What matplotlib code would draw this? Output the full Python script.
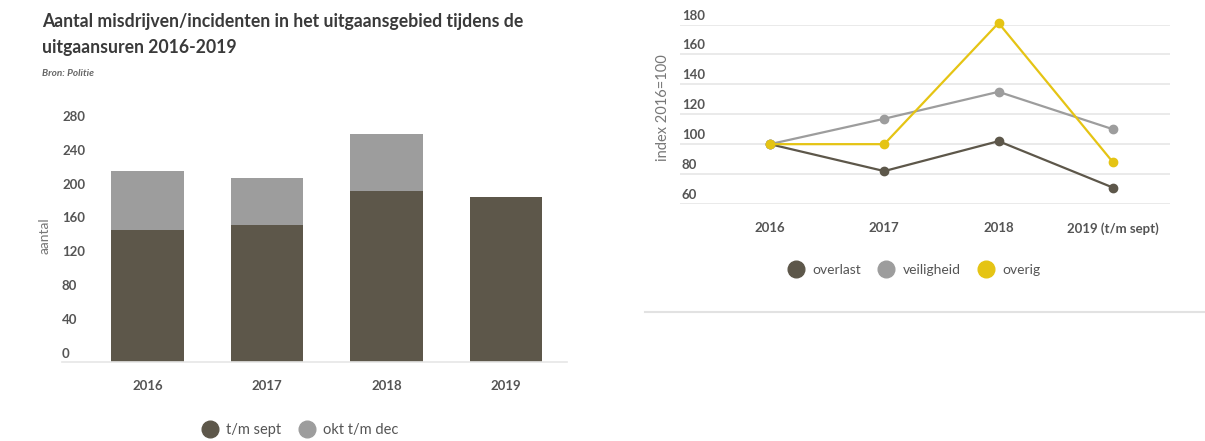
import matplotlib
matplotlib.use("Agg")
import matplotlib.pyplot as plt
from matplotlib.lines import Line2D
from matplotlib import transforms

# ---------------- data ----------------
bar_years = ["2016", "2017", "2018", "2019"]
tm_sept = [156, 161, 202, 195]
okt_tm_dec = [69, 56, 67, 0]
bar_yticks = [0, 40, 80, 120, 160, 200, 240, 280]

line_years = ["2016", "2017", "2018", "2019 (t/m sept)"]
overlast = [100, 82, 102, 71]
veiligheid = [100, 117, 135, 110]
overig = [100, 100, 181, 88]
line_yticks = [60, 80, 100, 120, 140, 160, 180]

# ---------------- style ----------------
DARK = "#5d574a"
GRAY = "#9d9d9d"
YELLOW = "#e5c414"
GRID = "#e6e6e6"
TXT = "#555555"
plt.rcParams["font.family"] = ["Lato", "DejaVu Sans"]

W, H = 1205, 441
fig = plt.figure(figsize=(W / 100, H / 100), dpi=100)


def px_axes(l, t, r, b):
    return fig.add_axes([l / W, 1 - b / H, (r - l) / W, (b - t) / H])


# ---------------- left: stacked bars ----------------
ax1 = px_axes(62, 124.9, 567, 361.5)
x = list(range(len(bar_years)))
ax1.bar(x, tm_sept, width=0.61, color=DARK, zorder=2)
ax1.bar(x, okt_tm_dec, bottom=tm_sept, width=0.61, color=GRAY, zorder=2)
ax1.set_ylim(0, 280)
ax1.set_xlim(-0.715, 3.51)
for s in ["top", "right", "left"]:
    ax1.spines[s].set_visible(False)
ax1.spines["bottom"].set_color(GRID)
ax1.spines["bottom"].set_linewidth(1.2)
ax1.set_yticks([])
ax1.set_xticks(x, bar_years)
ax1.tick_params(axis="x", length=0, pad=13, labelsize=9.5, labelcolor=TXT)
for lab in ax1.get_xticklabels():
    lab.set_fontweight("bold")
tr1 = transforms.offset_copy(ax1.get_yaxis_transform(), fig=fig, x=0, y=8, units="dots")
for v in bar_yticks:
    ax1.text(0, v, str(v), transform=tr1, ha="left", va="center",
             fontsize=9.5, color=TXT, fontweight="bold")
fig.text(45 / W, 1 - 236 / H, "aantal", rotation=90, ha="center", va="center",
         fontsize=10, color="#777777")

fig.text(42 / W, 1 - 22 / H,
         "Aantal misdrijven/incidenten in het uitgaansgebied tijdens de",
         ha="left", va="center", fontsize=12.7, fontweight="bold", color="#3a3a3a")
fig.text(42 / W, 1 - 48 / H, "uitgaansuren 2016-2019",
         ha="left", va="center", fontsize=12.7, fontweight="bold", color="#3a3a3a")
fig.text(42 / W, 1 - 73 / H, "Bron: Politie", ha="left", va="center",
         fontsize=7.2, fontweight="bold", fontstyle="italic", color="#666666")

h1 = [Line2D([], [], marker="o", ls="", ms=12, color=DARK),
      Line2D([], [], marker="o", ls="", ms=12, color=GRAY)]
fig.legend(h1, ["t/m sept", "okt t/m dec"], loc="center",
           bbox_to_anchor=(300 / W, 1 - 430 / H), ncol=2, frameon=False,
           handletextpad=0.5, columnspacing=1.2, fontsize=10.5,
           labelcolor=TXT, handlelength=1.2)

# ---------------- right: index lines ----------------
ax2 = px_axes(680, 24.5, 1170, 204)
xl = list(range(len(line_years)))
for vals, c in [(overlast, DARK), (veiligheid, GRAY), (overig, YELLOW)]:
    ax2.plot(xl, vals, color=c, lw=1.6, marker="o", ms=6, clip_on=False, zorder=3)
ax2.set_ylim(60, 180)
ax2.set_xlim(-0.787, 3.5)
for s in ["top", "right", "left", "bottom"]:
    ax2.spines[s].set_visible(False)
ax2.set_yticks(line_yticks)
ax2.yaxis.grid(True, color=GRID, lw=1.2)
ax2.tick_params(axis="y", length=0, labelleft=False)
ax2.set_xticks(xl, line_years)
ax2.tick_params(axis="x", length=0, pad=13, labelsize=9.5, labelcolor=TXT)
for lab in ax2.get_xticklabels():
    lab.set_fontweight("bold")
tr2 = transforms.offset_copy(ax2.get_yaxis_transform(), fig=fig, x=2, y=9, units="dots")
for v in line_yticks:
    ax2.text(0, v, str(v), transform=tr2, ha="left", va="center",
             fontsize=9.5, color=TXT, fontweight="bold")
fig.text(663 / W, 1 - 108 / H, "index 2016=100", rotation=90, ha="center",
         va="center", fontsize=10.5, color="#777777")

h2 = [Line2D([], [], marker="o", ls="", ms=12, color=DARK),
      Line2D([], [], marker="o", ls="", ms=12, color=GRAY),
      Line2D([], [], marker="o", ls="", ms=12, color=YELLOW)]
fig.legend(h2, ["overlast", "veiligheid", "overig"], loc="center",
           bbox_to_anchor=(914 / W, 1 - 270 / H), ncol=3, frameon=False,
           handletextpad=0.6, columnspacing=1.2, fontsize=10,
           labelcolor=TXT, handlelength=1.2)

fig.add_artist(Line2D([645 / W, 1.0], [1 - 312 / H, 1 - 312 / H],
                      transform=fig.transFigure, color="#e2e2e2", lw=1.5))

fig.savefig("out.png", dpi=100, facecolor="white")
